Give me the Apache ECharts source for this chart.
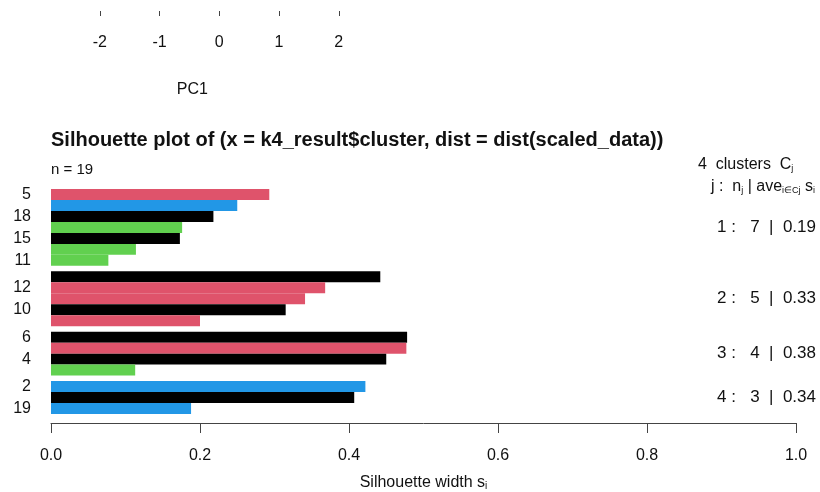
<!DOCTYPE html>
<html><head><meta charset="utf-8">
<script src="https://cdn.jsdelivr.net/npm/echarts@6/dist/echarts.min.js"></script>
<style>html,body{margin:0;padding:0;background:#fff}#c{width:820px;height:492px}</style>
</head><body><div id="c"></div>
<script>
// ---- data ----
const obsNames   = ['5','1','18','3','15','7','11','8','12','9','10','13','6','14','4','16','2','17','19'];
const clusterOf  = [1,1,1,1,1,1,1,2,2,2,2,2,3,3,3,3,4,4,4];
const silWidth   = [0.293,0.250,0.218,0.176,0.173,0.114,0.077,
                    0.442,0.368,0.341,0.315,0.200,
                    0.478,0.477,0.450,0.113,
                    0.422,0.407,0.188];
const colorKey   = [2,4,1,3,1,3,3, 1,2,2,1,2, 1,2,1,3, 4,1,4];
const silTicks   = [0, 0.2, 0.4, 0.6, 0.8, 1.0];
const pcTicks    = [-2, -1, 0, 1, 2];
const nObs = 19;

// ---- styling ----
const FONT = "'Liberation Sans', Arial, sans-serif";
const palette = {1:'#000000', 2:'#DF536B', 3:'#61D04F', 4:'#2297E6'};
const GAP = 0.5;

// bar slot positions (in bar units), with a gap between clusters
const pos = clusterOf.map((c, i) => i + GAP * (c - 1));
const clusters = [...new Set(clusterOf)];
const totalUnits = nObs + GAP * (clusters.length - 1);
const pad = 0.04 * totalUnits;

const barData = silWidth.map((v, i) => [v, pos[i], colorKey[i], i]);
const clusterData = clusters.map(c => {
  const idx = clusterOf.map((k, i) => k === c ? i : -1).filter(i => i >= 0);
  const first = pos[idx[0]], last = pos[idx[idx.length - 1]];
  const avg = idx.reduce((s, i) => s + silWidth[i], 0) / idx.length;
  return [(first + last + 1) / 2, c, idx.length, avg];
});

const labelValues = [];
const labelMap = {};
pos.forEach((p, i) => { if (i % 2 === 0) { const v = p + 0.5; labelValues.push(v); labelMap[v.toFixed(2)] = obsNames[i]; } });

const subStyle = { fontSize: 10, lineHeight: 8, verticalAlign: 'bottom', color: '#111', fontFamily: FONT };
const subStyle2 = { fontSize: 9, lineHeight: 8, verticalAlign: 'bottom', color: '#111', fontFamily: FONT };

const chart = echarts.init(document.getElementById('c'));
chart.setOption({
  backgroundColor: '#fff',
  animation: false,
  textStyle: { fontFamily: FONT },
  title: [
    { text: 'Silhouette plot of (x = k4_result$cluster, dist = dist(scaled_data))', left: 51, top: 129, padding: 0,
      textStyle: { fontFamily: FONT, fontSize: 20, fontWeight: 'bold', color: '#111', lineHeight: 22 } },
    { text: 'n = ' + nObs, left: 51, top: 162, padding: 0,
      textStyle: { fontFamily: FONT, fontSize: 15, fontWeight: 'normal', color: '#111', lineHeight: 16 } },
    { text: clusters.length + '  clusters  C{s|j}', left: 698, top: 157, padding: 0,
      textStyle: { fontFamily: FONT, fontSize: 16, fontWeight: 'normal', color: '#111', lineHeight: 16,
        rich: { s: subStyle2 } } },
    { text: 'j :  n{s|j} | ave{s|i\u2208Cj} s{s|i}', left: 711, top: 179, padding: 0,
      textStyle: { fontFamily: FONT, fontSize: 16, fontWeight: 'normal', color: '#111', lineHeight: 16,
        rich: { s: subStyle2 } } }
  ],
  grid: [
    { left: 51, right: 24, top: 180, height: 244, containLabel: false },
    { left: 43, width: 298.75, top: 0, height: 11, containLabel: false }
  ],
  xAxis: [
    { gridIndex: 0, type: 'value', min: 0, max: 1, interval: 0.2, position: 'bottom',
      axisLine: { show: true, onZero: false, lineStyle: { color: '#444', width: 1 } },
      axisTick: { show: true, length: 10, lineStyle: { color: '#444' } },
      axisLabel: { fontSize: 16, color: '#111', margin: 25, formatter: v => v.toFixed(1), fontFamily: FONT },
      splitLine: { show: false },
      name: 'Silhouette width s{s|i}', nameLocation: 'middle', nameGap: 52,
      nameTextStyle: { fontSize: 16, color: '#111', fontFamily: FONT, lineHeight: 16, rich: { s: subStyle } } },
    { gridIndex: 1, type: 'value', min: -2.95, max: 2.05, position: 'bottom',
      axisLine: { show: false, onZero: false },
      axisTick: { show: true, length: 5, customValues: pcTicks, lineStyle: { color: '#444' } },
      axisLabel: { fontSize: 16, color: '#111', margin: 24, customValues: pcTicks, fontFamily: FONT },
      splitLine: { show: false },
      name: 'PC1', nameLocation: 'middle', nameGap: 71,
      nameTextStyle: { fontSize: 16, color: '#111', fontFamily: FONT } }
  ],
  yAxis: [
    { gridIndex: 0, type: 'value', inverse: true, min: -pad, max: totalUnits + pad,
      axisLine: { show: false }, axisTick: { show: false }, splitLine: { show: false },
      axisLabel: { show: true, customValues: labelValues, fontSize: 16, color: '#111', margin: 20, fontFamily: FONT,
        formatter: v => labelMap[(+v).toFixed(2)] || '' } },
    { gridIndex: 1, type: 'value', show: false }
  ],
  series: [
    { type: 'custom', xAxisIndex: 0, yAxisIndex: 0, data: barData,
      renderItem: (params, api) => {
        const v = api.value(0), p = api.value(1), ck = api.value(2);
        const a = api.coord([0, p]), b = api.coord([v, p + 1]);
        return { type: 'rect', shape: { x: a[0], y: a[1], width: b[0] - a[0], height: b[1] - a[1] },
                 style: { fill: palette[ck], stroke: null } };
      } },
    { type: 'custom', xAxisIndex: 0, yAxisIndex: 0, data: clusterData, clip: false,
      renderItem: (params, api) => {
        const y = api.coord([0, api.value(0)])[1];
        const txt = api.value(1) + ' :   ' + api.value(2) + '  |  ' + api.value(3).toFixed(2);
        return { type: 'text', x: api.getWidth() - 4, y: y,
                 style: { text: txt, align: 'right', verticalAlign: 'middle', fontSize: 17, fill: '#111', fontFamily: FONT } };
      } }
  ]
});
</script></body></html>
